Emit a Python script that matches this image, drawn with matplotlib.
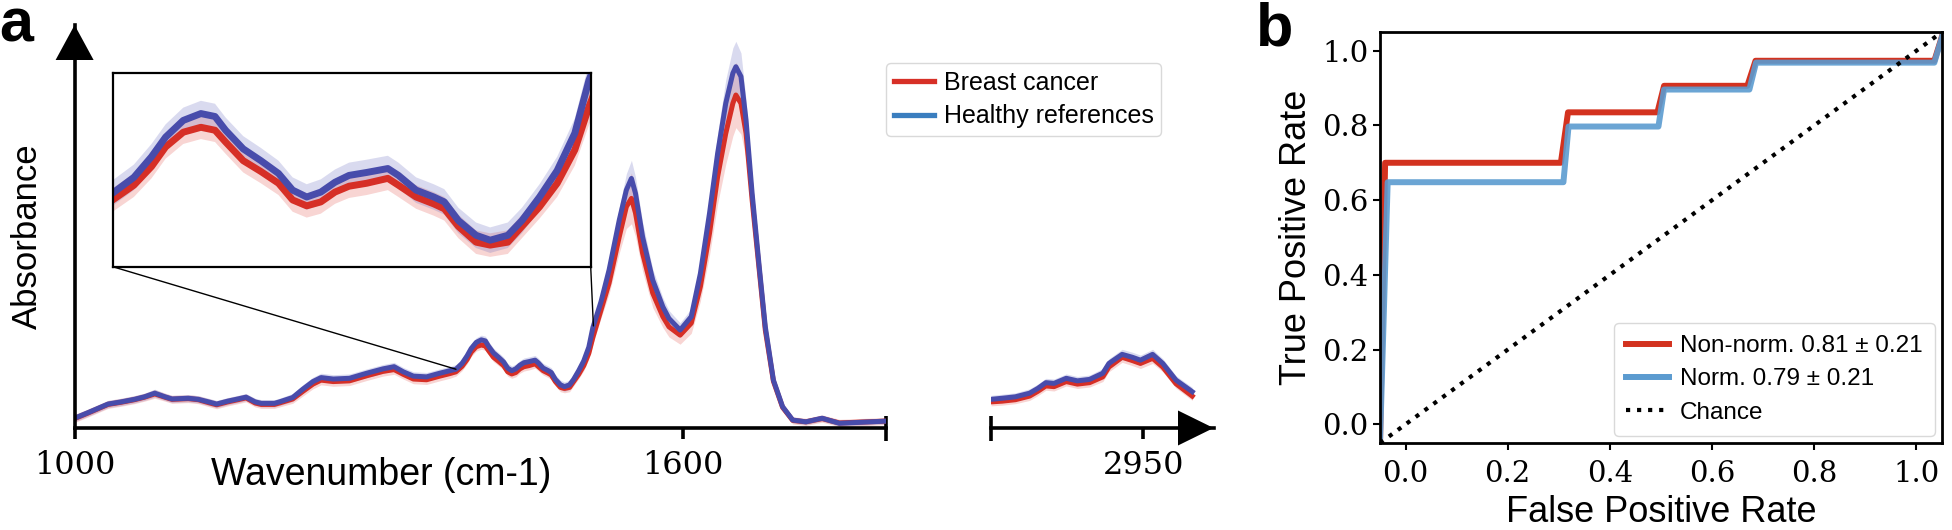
import numpy as np
import matplotlib
matplotlib.use("Agg")
import matplotlib.pyplot as plt
from matplotlib.lines import Line2D
from matplotlib.patches import Polygon, ConnectionPatch

plt.rcParams['font.family'] = ['Liberation Sans', 'DejaVu Sans']

# ---------------- data: panel a (mean spectra +/- sd) ----------------
wn1 = [1000, 1013, 1023, 1033, 1046, 1059, 1069, 1079, 1089, 1096, 1112, 1122, 1132, 1140, 1151,
       1161, 1169, 1178, 1184, 1197, 1202, 1215, 1225, 1235, 1243, 1255, 1271, 1288, 1304, 1315,
       1324, 1334, 1347, 1360, 1370,
       1376, 1382, 1387, 1391, 1396, 1401, 1405, 1408, 1413, 1418, 1423, 1427, 1431, 1435, 1439,
       1443, 1448, 1454, 1457, 1462, 1467, 1470, 1474, 1479, 1483, 1488, 1492, 1497, 1502, 1507, 1511,
       1519, 1527, 1537, 1544, 1549, 1553, 1560, 1570, 1580, 1586, 1597, 1608, 1617, 1626, 1634,
       1642, 1649, 1652, 1657, 1662, 1668, 1675, 1681, 1689, 1698, 1708, 1721, 1737, 1754, 1800]
healthy1 = [0.016, 0.031, 0.043, 0.055, 0.061, 0.068, 0.075, 0.085, 0.075, 0.069, 0.071, 0.068, 0.061, 0.055, 0.063,
            0.069, 0.074, 0.061, 0.057, 0.057, 0.061, 0.073, 0.096, 0.117, 0.128, 0.124, 0.126, 0.140, 0.152, 0.158,
            0.144, 0.132, 0.130, 0.140, 0.147,
            0.151, 0.167, 0.188, 0.208, 0.225, 0.232, 0.229, 0.215, 0.196, 0.184, 0.171, 0.154, 0.147, 0.152, 0.162,
            0.169, 0.172, 0.176, 0.169, 0.154, 0.147, 0.142, 0.123, 0.108, 0.103, 0.108, 0.123, 0.147, 0.174, 0.212, 0.266,
            0.337, 0.425, 0.562, 0.645, 0.677, 0.636, 0.516, 0.397, 0.323, 0.291, 0.259, 0.296, 0.415, 0.581, 0.746,
            0.884, 0.967, 0.985, 0.958, 0.838, 0.636, 0.434, 0.268, 0.121, 0.048, 0.011, 0.006, 0.016, 0.002, 0.008]
cancer1 = [0.015, 0.030, 0.042, 0.054, 0.060, 0.067, 0.074, 0.083, 0.074, 0.068, 0.070, 0.067, 0.059, 0.053, 0.061,
           0.067, 0.072, 0.058, 0.054, 0.054, 0.058, 0.069, 0.090, 0.110, 0.121, 0.117, 0.119, 0.133, 0.145, 0.150,
           0.137, 0.124, 0.122, 0.132, 0.139,
           0.144, 0.159, 0.178, 0.198, 0.213, 0.218, 0.215, 0.203, 0.184, 0.173, 0.161, 0.144, 0.138, 0.142, 0.152,
           0.158, 0.161, 0.166, 0.159, 0.147, 0.140, 0.135, 0.117, 0.101, 0.098, 0.101, 0.117, 0.137, 0.161, 0.195, 0.239,
           0.314, 0.389, 0.516, 0.599, 0.622, 0.582, 0.471, 0.361, 0.296, 0.268, 0.245, 0.278, 0.379, 0.526, 0.682,
           0.801, 0.884, 0.907, 0.884, 0.802, 0.618, 0.425, 0.259, 0.118, 0.046, 0.010, 0.006, 0.015, 0.003, 0.008]
sd_healthy1 = [0.010, 0.010, 0.010, 0.010, 0.010, 0.010, 0.010, 0.011, 0.010, 0.010, 0.010, 0.010, 0.010, 0.010, 0.010,
               0.010, 0.010, 0.010, 0.010, 0.010, 0.010, 0.011, 0.012, 0.012, 0.012, 0.012, 0.012, 0.012, 0.012, 0.012,
               0.012, 0.012, 0.012, 0.012, 0.012,
               0.013, 0.013, 0.013, 0.013, 0.013, 0.013, 0.013, 0.013, 0.013, 0.013, 0.013, 0.013, 0.013, 0.013, 0.013,
               0.013, 0.013, 0.013, 0.013, 0.013, 0.013, 0.013, 0.013, 0.013, 0.013, 0.013, 0.013, 0.013, 0.014, 0.015, 0.017,
               0.020, 0.025, 0.035, 0.045, 0.050, 0.045, 0.040, 0.030, 0.025, 0.022, 0.020, 0.022, 0.030, 0.045, 0.055,
               0.065, 0.070, 0.070, 0.065, 0.055, 0.040, 0.030, 0.020, 0.012, 0.008, 0.008, 0.008, 0.008, 0.008, 0.008]
sd_cancer1 = [0.011, 0.011, 0.011, 0.011, 0.011, 0.011, 0.011, 0.012, 0.011, 0.011, 0.011, 0.011, 0.011, 0.011, 0.011,
              0.011, 0.011, 0.011, 0.011, 0.011, 0.011, 0.012, 0.013, 0.013, 0.013, 0.013, 0.013, 0.013, 0.013, 0.013,
              0.013, 0.013, 0.013, 0.013, 0.013,
              0.012, 0.012, 0.012, 0.012, 0.012, 0.012, 0.012, 0.012, 0.012, 0.012, 0.012, 0.012, 0.012, 0.012, 0.012,
              0.012, 0.012, 0.012, 0.012, 0.012, 0.012, 0.012, 0.012, 0.012, 0.012, 0.012, 0.012, 0.012, 0.014, 0.016, 0.019,
              0.022, 0.030, 0.045, 0.060, 0.070, 0.065, 0.050, 0.040, 0.030, 0.028, 0.025, 0.028, 0.040, 0.060, 0.075,
              0.085, 0.090, 0.090, 0.085, 0.070, 0.050, 0.035, 0.025, 0.014, 0.010, 0.010, 0.010, 0.010, 0.010, 0.010]

wn2 = [2800, 2811, 2824, 2838, 2846, 2854, 2862, 2874, 2885, 2897, 2910, 2916, 2929, 2939, 2947, 2959, 2969, 2982, 2998]
healthy2 = [0.068, 0.071, 0.075, 0.085, 0.098, 0.114, 0.112, 0.126, 0.119, 0.123, 0.140, 0.167, 0.192, 0.184,
            0.176, 0.192, 0.167, 0.121, 0.089]
cancer2 = [0.061, 0.063, 0.067, 0.077, 0.090, 0.105, 0.103, 0.117, 0.110, 0.114, 0.130, 0.157, 0.184, 0.175,
           0.167, 0.181, 0.157, 0.111, 0.077]
sd_healthy2 = [0.011, 0.011, 0.011, 0.012, 0.012, 0.012, 0.012, 0.012, 0.012, 0.012, 0.013, 0.013, 0.014, 0.014,
               0.014, 0.014, 0.013, 0.012, 0.012]
sd_cancer2 = [0.011, 0.011, 0.011, 0.012, 0.012, 0.012, 0.012, 0.012, 0.012, 0.012, 0.013, 0.013, 0.014, 0.014,
              0.014, 0.014, 0.013, 0.012, 0.012]

spec_ticks1 = [1000, 1600]
spec_ticks2 = [2950]
spec_labels = ["Breast cancer", "Healthy references"]
inset_range = [1376, 1511.5]

# ---------------- data: panel b (ROC) ----------------
fpr_nonnorm = [-0.05, -0.04, 0.304, 0.318, 0.493, 0.506, 0.669, 0.685, 1.035, 1.055]
tpr_nonnorm = [-0.05, 0.700, 0.700, 0.835, 0.835, 0.906, 0.906, 0.973, 0.973, 1.060]
fpr_norm = [-0.05, -0.035, 0.309, 0.319, 0.495, 0.506, 0.673, 0.686, 1.035, 1.055]
tpr_norm = [-0.05, 0.648, 0.648, 0.797, 0.797, 0.896, 0.896, 0.968, 0.968, 1.060]
chance = [-0.05, 1.05]
roc_labels = ["Non-norm. 0.81 \u00b1 0.21", "Norm. 0.79 \u00b1 0.21", "Chance"]
roc_ticks = [0.0, 0.2, 0.4, 0.6, 0.8, 1.0]

# ---------------- style ----------------
RED = '#d62f26'
BLUE = '#484cab'
RED_BAND = '#e0403a'
BLUE_BAND = '#6a6cc0'
RED_LEG = '#d73027'
BLUE_LEG = '#3a7ebf'
ROC_RED = '#d3321f'
ROC_BLUE = '#5b9bd0'
SERIF = 'DejaVu Serif'

W, H = 1952, 530
fig = plt.figure(figsize=(W / 100, H / 100), dpi=100)


def fx(px):
    return px / W


def fy(py):
    return 1 - py / H


def draw_spectra(ax, wn, h, c, sh, sc, lw):
    wn = np.asarray(wn); h = np.asarray(h); c = np.asarray(c)
    sh = np.asarray(sh); sc = np.asarray(sc)
    ax.fill_between(wn, c - sc, c + sc, color=RED_BAND, alpha=0.22, lw=0)
    ax.fill_between(wn, h - sh, h + sh, color=BLUE_BAND, alpha=0.25, lw=0)
    ax.plot(wn, c, color=RED, lw=lw, solid_joinstyle='round')
    ax.plot(wn, h, color=BLUE, lw=lw, solid_joinstyle='round')


AX_LW = 2.6
y_top_px, y_bot_px = 25, 428
ax1 = fig.add_axes([fx(74.6), fy(y_bot_px), fx(886) - fx(74.6), (y_bot_px - y_top_px) / H])
ax2 = fig.add_axes([fx(991), fy(y_bot_px), fx(1213.6) - fx(991), (y_bot_px - y_top_px) / H])

draw_spectra(ax1, wn1, healthy1, cancer1, sd_healthy1, sd_cancer1, 3.6)
draw_spectra(ax2, wn2, healthy2, cancer2, sd_healthy2, sd_cancer2, 3.6)

ax1.set_xlim(1000, 1800)
ax2.set_xlim(2800, 3019)
for ax in (ax1, ax2):
    ax.set_ylim(-0.011, 1.1)
    ax.set_yticks([])
    ax.spines['top'].set_visible(False)
    ax.spines['right'].set_visible(False)
    ax.spines['bottom'].set_linewidth(AX_LW)
    ax.spines['left'].set_linewidth(AX_LW)
    ax.patch.set_alpha(0)
ax2.spines['left'].set_visible(False)

ax1.set_xticks(spec_ticks1)
ax1.set_xticks([1800], minor=True)
ax2.set_xticks(spec_ticks2)
ax2.set_xticks([2800], minor=True)
for ax in (ax1, ax2):
    ax.tick_params(axis='x', which='major', direction='out', length=8, width=AX_LW, pad=8, labelsize=23)
    ax.tick_params(axis='x', which='minor', direction='inout', length=18, width=AX_LW)
    for lab in ax.get_xticklabels():
        lab.set_fontfamily(SERIF)

# arrow heads (axis decoration)
fig.add_artist(Polygon([[fx(74.6), fy(25)], [fx(55.6), fy(60)], [fx(93.6), fy(60)]],
                       closed=True, transform=fig.transFigure, color='black', lw=0))
fig.add_artist(Polygon([[fx(1213.6), fy(y_bot_px)], [fx(1178), fy(y_bot_px - 17.5)], [fx(1178), fy(y_bot_px + 17.5)]],
                       closed=True, transform=fig.transFigure, color='black', lw=0))

# inset
axin = fig.add_axes([fx(112.7), fy(266.7), fx(590.7) - fx(112.7), (266.7 - 73.3) / H])
draw_spectra(axin, wn1, healthy1, cancer1, sd_healthy1, sd_cancer1, 5.0)
axin.set_xlim(*inset_range)
axin.set_ylim(0.076, 0.273)
axin.set_xticks([]); axin.set_yticks([])
for s in axin.spines.values():
    s.set_linewidth(1.6)

for corner, xv in ((0, inset_range[0]), (1, inset_range[1])):
    yv = float(np.interp(xv, wn1, healthy1))
    con = ConnectionPatch(xyA=(corner, 0), coordsA=axin.transAxes, xyB=(xv, yv), coordsB=ax1.transData,
                          color='black', lw=1.0)
    fig.add_artist(con)

handles_a = [Line2D([0], [0], color=RED_LEG, lw=3.8), Line2D([0], [0], color=BLUE_LEG, lw=3.8)]
fig.legend(handles_a, spec_labels, loc='upper left', bbox_to_anchor=(fx(886), fy(63)),
           bbox_transform=fig.transFigure, fontsize=18, handlelength=1.6, handletextpad=0.4,
           labelspacing=0.39, borderpad=0.3, borderaxespad=0, framealpha=1, edgecolor='0.85')

fig.text(fx(27), fy(236), "Absorbance", rotation=90, ha='center', va='center', fontsize=25)
fig.text(fx(381.5), fy(485), "Wavenumber (cm-1)", ha='center', va='baseline', fontsize=27)
fig.text(fx(-1), fy(42), "a", ha='left', va='baseline', fontsize=44, fontweight='bold')
fig.text(fx(1256), fy(45), "b", ha='left', va='baseline', fontsize=44, fontweight='bold')

# ---------------- panel b ----------------
axb = fig.add_axes([fx(1380), fy(443), fx(1942) - fx(1380), (443 - 32) / H])
axb.plot(fpr_nonnorm, tpr_nonnorm, color=ROC_RED, lw=4.3, label=roc_labels[0])
axb.plot(fpr_norm, tpr_norm, color=ROC_BLUE, lw=4.3, alpha=0.9, label=roc_labels[1])
axb.plot(chance, chance, color='black', lw=3.0, ls=':', label=roc_labels[2])
axb.set_xlim(-0.05, 1.05)
axb.set_ylim(-0.05, 1.05)
axb.set_xticks(roc_ticks)
axb.set_yticks(roc_ticks)
axb.set_xticklabels([f"{t:.1f}" for t in roc_ticks])
axb.set_yticklabels([f"{t:.1f}" for t in roc_ticks])
for s in axb.spines.values():
    s.set_linewidth(2.0)
axb.tick_params(axis='both', direction='out', length=5, width=1.5, labelsize=21)
axb.tick_params(axis='x', pad=7.5)
axb.tick_params(axis='y', pad=3.3)
for lab in axb.get_xticklabels() + axb.get_yticklabels():
    lab.set_fontfamily(SERIF)
axb.set_xlabel("False Positive Rate", fontsize=26, labelpad=5)
axb.set_ylabel("True Positive Rate", fontsize=26, labelpad=6)
leg_h = [Line2D([0], [0], color=ROC_RED, lw=4.3), Line2D([0], [0], color=ROC_BLUE, lw=4.3),
         Line2D([0], [0], color='black', lw=3.0, ls=':')]
axb.legend(leg_h, roc_labels, loc='lower right', fontsize=17.5, handlelength=1.75, handletextpad=0.45,
           labelspacing=0.46, borderpad=0.5, borderaxespad=0.3, framealpha=1, edgecolor='0.85')

fig.savefig("out.png", dpi=100)
